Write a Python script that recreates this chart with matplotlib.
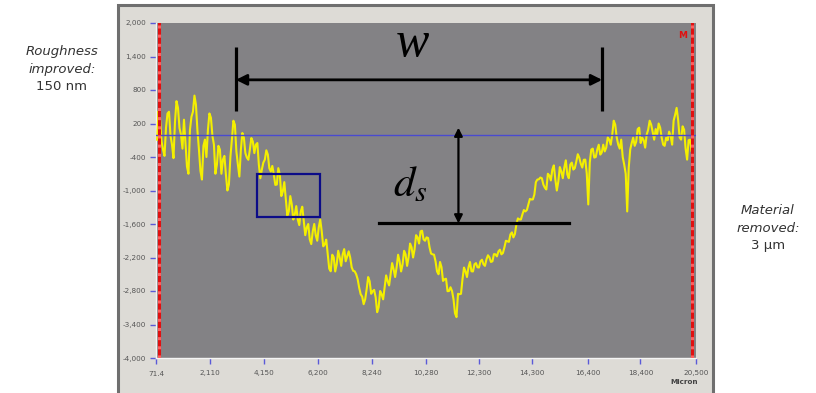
import numpy as np
import matplotlib
matplotlib.use("Agg")
import matplotlib.pyplot as plt
from matplotlib.patches import Rectangle

# ---- data (nm vs micron) ----
# main samples of the surface profile
depth_nm = [
    -89, 304, -268, 125, 411, -179, 232, 482, 0, 268,
    -572, 89, 411, 536, -268, -804, -89, 89, 304, -179,
    -536, -268, -447, -714, -893, -89, 179, -536, -268, -54,
    -411, -268, -125, -179, -536, -625, -447, -357, -661, -714,
    -893, -714, -1018, -1161, -1375, -1250, -1429, -1518, -1375, -1554,
    -1661, -1875, -1732, -1804, -1661, -1732, -1965, -2143, -2447, -2197,
    -2322, -2197, -2143, -2268, -2090, -2375, -2447, -2590, -2858, -3036,
    -2768, -2625, -2804, -2911, -3090, -2858, -2733, -2625, -2500, -2411,
    -2375, -2268, -2322, -2143, -2197, -2018, -2054, -1840, -1732, -1875,
    -1840, -2018, -2143, -2268, -2500, -2375, -2590, -2804, -2733, -2947,
    -3268, -2858, -2590, -2447, -2375, -2447, -2322, -2375, -2268, -2322,
    -2233, -2197, -2268, -2143, -2090, -2143, -2018, -1911, -1786, -1840,
    -1607, -1518, -1429, -1375, -1250, -1161, -1072, -804, -768, -893,
    -982, -732, -625, -804, -839, -661, -589, -714, -536, -625,
    -482, -411, -589, -447, -1250, -268, -411, -268, -357, -179,
    -232, -89, 0, 179, -179, -89, -536, -1375, -268, -54,
    -125, 125, -54, -232, 89, 179, -89, 0, 125, -179,
    -54, 54, -179, 357, 268, -89, 89, -447, -89, 0,
]
# in-between samples (read between the main ones; the fine roughness)
depth_between_nm = [
    420, -120, -380, 380, -20, -420, 600, 120, -250, -150,
    -700, 320, 700, 70, -650, -200, -400, 380, -20, -700,
    -200, -700, -380, -1000, -400, 250, -300, -750, 30, -330,
    -450, -60, -330, -150, -780, -500, -280, -600, -560, -900,
    -600, -1100, -850, -1450, -1100, -1520, -1280, -1620, -1290, -1800,
    -1600, -1960, -1600, -1900, -1520, -2000, -1880, -2400, -2150, -2450,
    -2080, -2350, -2050, -2180, -2200, -2440, -2500, -2740, -2900, -2950,
    -2550, -2850, -2780, -3180, -2800, -2950, -2520, -2700, -2300, -2550,
    -2150, -2450, -2080, -2350, -1950, -2200, -1800, -1950, -1720, -1900,
    -1850, -2130, -2150, -2450, -2280, -2620, -2580, -2800, -2800, -3200,
    -2850, -2850, -2380, -2550, -2280, -2450, -2300, -2380, -2240, -2350,
    -2160, -2280, -2140, -2180, -2060, -2120, -1900, -1920, -1750, -1780,
    -1500, -1520, -1350, -1350, -1150, -1160, -850, -800, -780, -950,
    -700, -820, -550, -1000, -580, -780, -460, -780, -500, -600,
    -350, -520, -450, -700, -500, -250, -400, -180, -320, -300,
    -50, -180, 250, -50, -250, -400, -700, -600, -150, -200,
    100, -150, -100, 0, 250, 50, 100, 200, -50, -200,
    -100, -20, 250, 480, -50, 150, -250, -100, -300,
]
scan_start, scan_end = 110, 20390

profile = np.empty(len(depth_nm) + len(depth_between_nm))
profile[0::2] = depth_nm
profile[1::2] = depth_between_nm
position_um = np.linspace(scan_start, scan_end, len(profile))

x_ticks = [71.4, 2110, 4150, 6200, 8240, 10280, 12300, 14300, 16400, 18400, 20500]
x_labels = ["71.4", "2,110", "4,150", "6,200", "8,240", "10,280", "12,300",
            "14,300", "16,400", "18,400", "20,500"]
y_ticks = [2000, 1400, 800, 200, -400, -1000, -1600, -2200, -2800, -3400, -4000]
y_labels = ["2,000", "1,400", "800", "200", "-400", "-1,000", "-1,600",
            "-2,200", "-2,800", "-3,400", "-4,000"]

reference_level = 0
cursor_left, cursor_right = 200, 20330
box_x = (3885, 6264)
box_y = (-1482, -696)
w_x = (3092, 16950)
w_bar_y = (429, 1571)
w_arrow_y = 982
ds_x = 11513
ds_y = (125, -1589)
ds_line_x = (8492, 15704)

# ---- figure ----
fig = plt.figure(figsize=(8.16, 3.93), dpi=100)
fig.patch.set_facecolor("white")

W, H = 816, 393
def fx(px): return px / W
def fy(py): return 1 - py / H

# outer instrument panel
panel = Rectangle((fx(118), fy(395)), fx(713) - fx(118), fy(5) - fy(395),
                  transform=fig.transFigure, facecolor="#dddbd6",
                  edgecolor="#6f6f6f", linewidth=2.2, zorder=-10)
fig.patches.append(panel)

ax = fig.add_axes([fx(156), fy(358), fx(696) - fx(156), fy(23) - fy(358)])
ax.set_zorder(1)
ax.set_facecolor("#838285")
ax.set_xlim(71.4, 20500)
ax.set_ylim(-4000, 2000)

ax.plot(position_um, profile, color="#f4ef00", lw=1.5, zorder=3)

ax.axhline(reference_level, color="#4a4ad0", lw=1.0, zorder=4)

# red cursors
for cx in (cursor_left, cursor_right):
    ax.axvline(cx, color="#e01010", lw=2.2, zorder=5)
    ax.axvline(cx, color="#ff6060", lw=2.2, ls=(0, (1, 2)), zorder=6)

ax.text(0.975, 0.975, "M", transform=ax.transAxes, color="#e01010",
        fontsize=6.5, fontweight="bold", ha="center", va="top")

# blue box
ax.add_patch(Rectangle((box_x[0], box_y[0]), box_x[1] - box_x[0], box_y[1] - box_y[0],
                       fill=False, edgecolor="#0c0c88", lw=1.6, zorder=7))

# w annotation
for bx in w_x:
    ax.plot([bx, bx], w_bar_y, color="black", lw=2.3, zorder=8, solid_capstyle="butt")
ax.annotate("", xy=(w_x[0], w_arrow_y), xytext=(w_x[1], w_arrow_y),
            arrowprops=dict(arrowstyle="<|-|>", color="black", lw=2.0,
                            mutation_scale=16, shrinkA=0, shrinkB=0), zorder=8)
ax.text((w_x[0] + w_x[1]) / 2 - 250, 1620, "w", fontsize=36, style="italic",
        family="Liberation Serif", ha="center", va="center", zorder=8)

# d_s annotation
ax.plot(ds_line_x, [ds_y[1], ds_y[1]], color="black", lw=2.3, zorder=8)
ax.annotate("", xy=(ds_x, ds_y[0]), xytext=(ds_x, ds_y[1]),
            arrowprops=dict(arrowstyle="<|-|>", color="black", lw=1.6,
                            mutation_scale=12, shrinkA=0, shrinkB=0), zorder=8)
ax.text(9700, -880, r"$d_s$", fontsize=31, ha="center", va="center", zorder=8,
        math_fontfamily="stix")

# ticks
ax.set_xticks(x_ticks)
ax.set_xticklabels(x_labels)
ax.set_yticks(y_ticks)
ax.set_yticklabels(y_labels)
ax.tick_params(axis="both", direction="out", length=4, width=1.0, color="#5a5ad8",
               labelsize=5.2, labelcolor="#555555", pad=3)
ax.tick_params(axis="x", pad=5)
for s in ("top", "right"):
    ax.spines[s].set_visible(False)
ax.spines["left"].set_color("#f4f4f4")
ax.spines["bottom"].set_color("#f4f4f4")
ax.spines["left"].set_linewidth(1.0)
ax.spines["bottom"].set_linewidth(1.0)

fig.text(fx(684), fy(382), "Micron", fontsize=5.2, fontweight="bold",
         color="#444444", ha="center", va="center")

# side notes
side_kw = dict(ha="center", va="center", color="#333333", fontsize=9.5)
fig.text(fx(62), fy(51), "Roughness", style="italic", **side_kw)
fig.text(fx(62), fy(69), "improved:", style="italic", **side_kw)
fig.text(fx(62), fy(86), "150 nm", **side_kw)
fig.text(fx(768), fy(211), "Material", style="italic", **side_kw)
fig.text(fx(768), fy(228), "removed:", style="italic", **side_kw)
fig.text(fx(768), fy(245), "3 µm", **side_kw)

fig.savefig("out.png", dpi=100)
